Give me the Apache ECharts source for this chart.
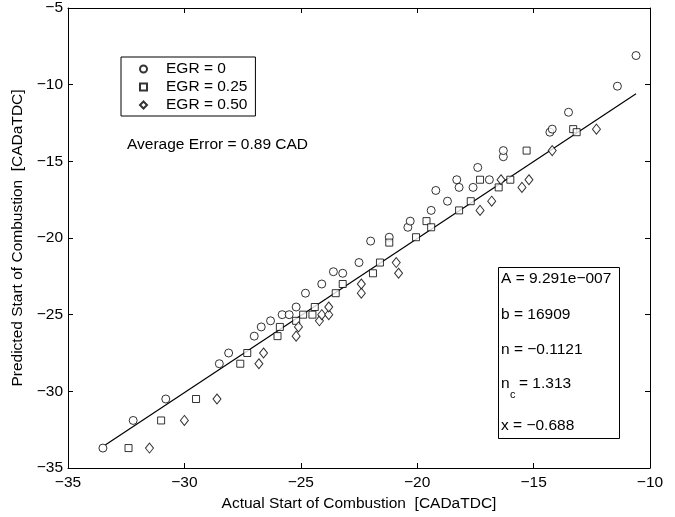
<!DOCTYPE html>
<html>
<head>
<meta charset="utf-8">
<script src="https://cdn.jsdelivr.net/npm/echarts@6/dist/echarts.min.js"></script>
<style>
  html, body { margin: 0; padding: 0; background: #fff; }
  #chart { width: 675px; height: 517px; }
</style>
</head>
<body>
<div id="chart"></div>
<script>
// EGR = 0 (circles): [actual, predicted]
const egr0 = [
  [-33.5, -33.7], [-32.2, -31.9], [-30.8, -30.5], [-28.5, -28.2], [-28.1, -27.5],
  [-27.0, -26.4], [-26.7, -25.8], [-26.3, -25.4], [-25.8, -25.0], [-25.5, -25.0],
  [-25.2, -24.5], [-24.8, -23.6], [-24.1, -23.0], [-23.6, -22.2], [-23.2, -22.3],
  [-22.5, -21.6], [-22.0, -20.2], [-21.2, -19.95], [-20.4, -19.3], [-20.3, -18.9],
  [-19.4, -18.2], [-18.7, -17.6], [-19.2, -16.9], [-18.3, -16.2], [-18.2, -16.7],
  [-17.6, -16.7], [-16.9, -16.2], [-17.4, -15.4], [-16.3, -14.7], [-16.3, -14.3],
  [-14.3, -13.1], [-14.2, -12.9], [-13.5, -11.8], [-11.4, -10.1], [-10.6, -8.1]
];
// EGR = 0.25 (squares)
const egr25 = [
  [-32.4, -33.7], [-31.0, -31.9], [-29.5, -30.5], [-27.6, -28.2], [-27.3, -27.5],
  [-26.0, -26.4], [-25.9, -25.8], [-25.2, -25.4], [-24.9, -25.0], [-24.5, -25.0],
  [-24.4, -24.5], [-23.5, -23.6], [-23.2, -23.0], [-21.9, -22.3], [-21.6, -21.6],
  [-21.2, -20.3], [-20.05, -19.95], [-19.6, -18.9], [-19.4, -19.3], [-18.2, -18.2],
  [-17.7, -17.6], [-16.5, -16.7], [-17.3, -16.2], [-16.0, -16.2], [-15.3, -14.3],
  [-13.3, -12.9], [-13.15, -13.1]
];
// EGR = 0.50 (diamonds)
const egr50 = [
  [-31.5, -33.7], [-30.0, -31.9], [-28.6, -30.5], [-26.8, -28.2], [-26.6, -27.5],
  [-25.2, -26.4], [-25.1, -25.8], [-24.2, -25.4], [-24.1, -25.0], [-23.8, -25.0],
  [-23.8, -24.5], [-22.4, -23.6], [-22.4, -23.0], [-20.9, -21.6], [-20.8, -22.3],
  [-17.3, -18.2], [-16.8, -17.6], [-16.4, -16.2], [-15.5, -16.7], [-15.2, -16.2],
  [-14.2, -14.3], [-12.3, -12.9]
];
// fitted line end points
const fitLine = [[-33.4, -33.5], [-10.6, -10.6]];

const seriesNames = ["EGR = 0", "EGR = 0.25", "EGR = 0.50"];
const xTitle = "Actual Start of Combustion  [CADaTDC]";
const yTitle = "Predicted Start of Combustion  [CADaTDC]";
const avgErrorText = "Average Error = 0.89 CAD";
const paramLines = ["A = 9.291e\u2212007", "b = 16909", "n = \u22120.1121", "= 1.313", "x = \u22120.688"];

const FONT = "'Liberation Sans', Arial, Helvetica, sans-serif";
const FS = 15.5;
const font = FS + "px " + FONT;

const minusFmt = (v) => String(v).replace("-", "\u2212");

const myChart = echarts.init(document.getElementById("chart"));

const markStyle = {
  color: "#fff",
  borderColor: "#000",
  borderWidth: 1,
};

const axisCommon = {
  type: "value",
  interval: 5,
  axisLine: { show: true, onZero: false, lineStyle: { color: "#000", width: 1 } },
  axisTick: { show: true, inside: true, length: 5, lineStyle: { color: "#000" } },
  splitLine: { show: false },
};

const txt = (text, left, top, f) => ({
  type: "text",
  left: left,
  top: top,
  z: 11,
  style: { text: text, font: f || font, fill: "#000" },
});

const option = {
  animation: false,
  backgroundColor: "#fff",
  textStyle: { fontFamily: FONT },
  grid: { left: 68, right: 25, top: 8, bottom: 49 },
  legend: {
    orient: "vertical",
    left: 121,
    top: 57,
    padding: [3, 8, 2, 18],
    itemGap: 0,
    itemWidth: 7,
    itemHeight: 7,
    borderColor: "#000",
    borderWidth: 1,
    backgroundColor: "#fff",
    textStyle: { fontSize: FS, color: "#000", lineHeight: 18, padding: [0, 0, 0, 14], fontFamily: FONT },
    data: [
      { name: seriesNames[0], icon: "circle" },
      { name: seriesNames[1], icon: "rect" },
      { name: seriesNames[2], icon: "diamond" },
    ],
  },
  xAxis: [
    {
      ...axisCommon,
      min: -35,
      max: -10,
      position: "bottom",
      axisLabel: { color: "#000", fontSize: FS, margin: 7, formatter: minusFmt, fontFamily: FONT },
      name: xTitle,
      nameLocation: "middle",
      nameGap: 28,
      nameTextStyle: { color: "#000", fontSize: FS, fontFamily: FONT },
    },
    {
      ...axisCommon,
      min: -35,
      max: -10,
      position: "top",
      axisLabel: { show: false },
    },
  ],
  yAxis: [
    {
      ...axisCommon,
      min: -35,
      max: -5,
      position: "left",
      axisLabel: { color: "#000", fontSize: FS, margin: 5, formatter: minusFmt, fontFamily: FONT },
      name: yTitle,
      nameLocation: "middle",
      nameGap: 37,
      nameTextStyle: { color: "#000", fontSize: FS, fontFamily: FONT },
    },
    {
      ...axisCommon,
      min: -35,
      max: -5,
      position: "right",
      axisLabel: { show: false },
    },
  ],
  series: [
    {
      name: "fit",
      type: "line",
      data: fitLine,
      symbol: "none",
      silent: true,
      lineStyle: { color: "#000", width: 1.2 },
      z: 1,
    },
    {
      name: seriesNames[0],
      type: "scatter",
      data: egr0,
      symbol: "circle",
      symbolSize: 8,
      itemStyle: markStyle,
      z: 3,
    },
    {
      name: seriesNames[1],
      type: "scatter",
      data: egr25,
      symbol: "rect",
      symbolSize: 7,
      itemStyle: markStyle,
      z: 3,
    },
    {
      name: seriesNames[2],
      type: "scatter",
      data: egr50,
      symbol: "diamond",
      symbolSize: [8, 10],
      itemStyle: markStyle,
      z: 3,
    },
  ],
  graphic: [
    txt(avgErrorText, 127, 137),
    {
      type: "rect",
      left: 498,
      top: 267,
      shape: { width: 121, height: 171 },
      style: { fill: "#fff", stroke: "#000", lineWidth: 1 },
      z: 10,
    },
    txt(paramLines[0], 501, 271),
    txt(paramLines[1], 501, 307),
    txt(paramLines[2], 501, 342),
    txt("n", 501, 376),
    txt("c", 510, 389, "11px " + FONT),
    txt(paramLines[3], 519, 376),
    txt(paramLines[4], 501, 418),
  ],
};

myChart.setOption(option);
</script>
</body>
</html>
